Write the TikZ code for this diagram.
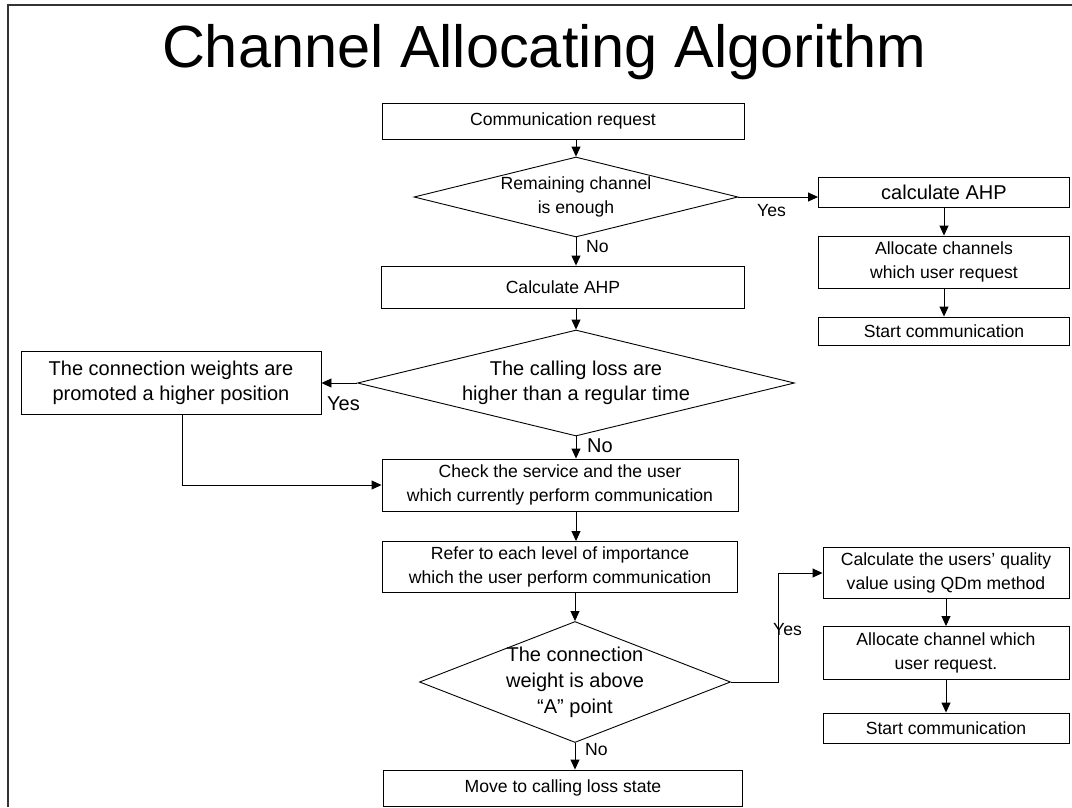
\documentclass[tikz,border=0pt]{standalone}
\usepackage{fontspec}
\setmainfont{Liberation Sans}
\usepackage{tikz}
\usetikzlibrary{shapes.geometric,arrows.meta,calc}
\newcommand{\titlesize}{\fontsize{59.5pt}{66pt}\selectfont}
\newcommand{\boxsize}{\fontsize{17.6pt}{24pt}\selectfont}
\newcommand{\bigsize}{\fontsize{20pt}{25pt}\selectfont}
\newcommand{\bigloose}{\fontsize{20pt}{26pt}\selectfont}
\tikzset{
  flowbox/.style = {draw, line width=0.9pt, inner sep=0pt, align=center, font=\boxsize},
  decide/.style  = {diamond, draw, line width=0.9pt, inner sep=-6pt, align=center, font=\boxsize},
  flow/.style    = {-{Triangle[length=10pt,width=9pt]}, line width=0.9pt},
  answer/.style  = {inner sep=0pt, anchor=west, font=\boxsize},
}

\begin{document}
\begin{tikzpicture}[x=1pt, y=-1pt]
\useasboundingbox (0,0) rectangle (1072,807);
\draw[line width=1.4pt, black!80] (8,807) -- (8,5) -- (1072,5);
\node[font=\titlesize, anchor=base] (title) at (544,67) {Channel Allocating Algorithm};

% main column
\node[flowbox, minimum width=362pt, minimum height=36pt] (comreq) at (563,121) {Communication request};
\node[decide, aspect=4.05, minimum width=324pt, minimum height=80pt] (remain) at (576,197) {Remaining channel\\is enough};
\node[flowbox, minimum width=363pt, minimum height=42pt] (calcahp) at (563,287) {Calculate AHP};
\node[decide, font=\bigsize, aspect=4.12, minimum width=437pt, minimum height=106pt] (calling) at (576,383) {The calling loss are\\higher than a regular time};
\node[flowbox, font=\bigsize, minimum width=300pt, minimum height=63pt] (promote) at (171,383) {The connection weights are\\promoted a higher position};
\node[flowbox, minimum width=356pt, minimum height=52pt] (check) at (560,485) {Check the service and the user\\which currently perform communication};
\node[flowbox, minimum width=355pt, minimum height=51pt] (refer) at (560,567) {Refer to each level of importance\\which the user perform communication};
\node[decide, font=\bigloose, aspect=2.57, minimum width=311pt, minimum height=121pt] (above) at (575,682) {The connection\\weight is above\\“A” point};
\node[flowbox, minimum width=359pt, minimum height=36pt] (move) at (563,788) {Move to calling loss state};

% right column, upper
\node[flowbox, font=\bigsize, minimum width=251pt, minimum height=30pt] (rahp) at (944,192) {calculate AHP};
\node[flowbox, minimum width=251pt, minimum height=52pt] (ralloc) at (944,262) {Allocate channels\\which user request};
\node[flowbox, minimum width=251pt, minimum height=28pt] (rstart) at (944,331) {Start communication};

% right column, lower
\node[flowbox, minimum width=246pt, minimum height=51pt] (qdm) at (946,573) {Calculate the users’ quality\\value using QDm method};
\node[flowbox, minimum width=246pt, minimum height=53pt] (lalloc) at (946,653) {Allocate channel which\\user request.};
\node[flowbox, minimum width=246pt, minimum height=30pt] (lstart) at (946,728) {Start communication};

% labels
\node[answer] (yesa) at (757,211) {Yes};
\node[answer] (noa) at (586,247) {No};
\node[answer, font=\bigsize] (yesb) at (327,404) {Yes};
\node[answer, font=\bigsize] (nob) at (587,446) {No};
\node[answer] (yesc) at (773,630) {Yes};
\node[answer] (noc) at (585,750) {No};

\draw[flow] (comreq.south -| remain) -- (remain.north);
\draw[flow] (remain.south) -- (remain.south |- calcahp.north);
\draw[flow] (remain.east) -- (remain.east -| rahp.west);
\draw[flow] (rahp) -- (ralloc);
\draw[flow] (ralloc) -- (rstart);
\draw[flow] (calcahp.south -| calling) -- (calling.north);
\draw[flow] (calling.west) -- (calling.west -| promote.east);
\draw[flow] (calling.south) -- (calling.south |- check.north);
\draw[flow] ([xshift=11pt]promote.south) |- (check.west);
\draw[flow] (check.south -| calling) -- (refer.north -| calling);
\draw[flow] (refer.south -| above) -- (above.north);
\draw[flow] (above.south) -- (above.south |- move.north);
\draw[flow] (above.east) -- ++(47,0) |- (qdm.west);
\draw[flow] (qdm) -- (lalloc);
\draw[flow] (lalloc) -- (lstart);
\end{tikzpicture}
\end{document}
